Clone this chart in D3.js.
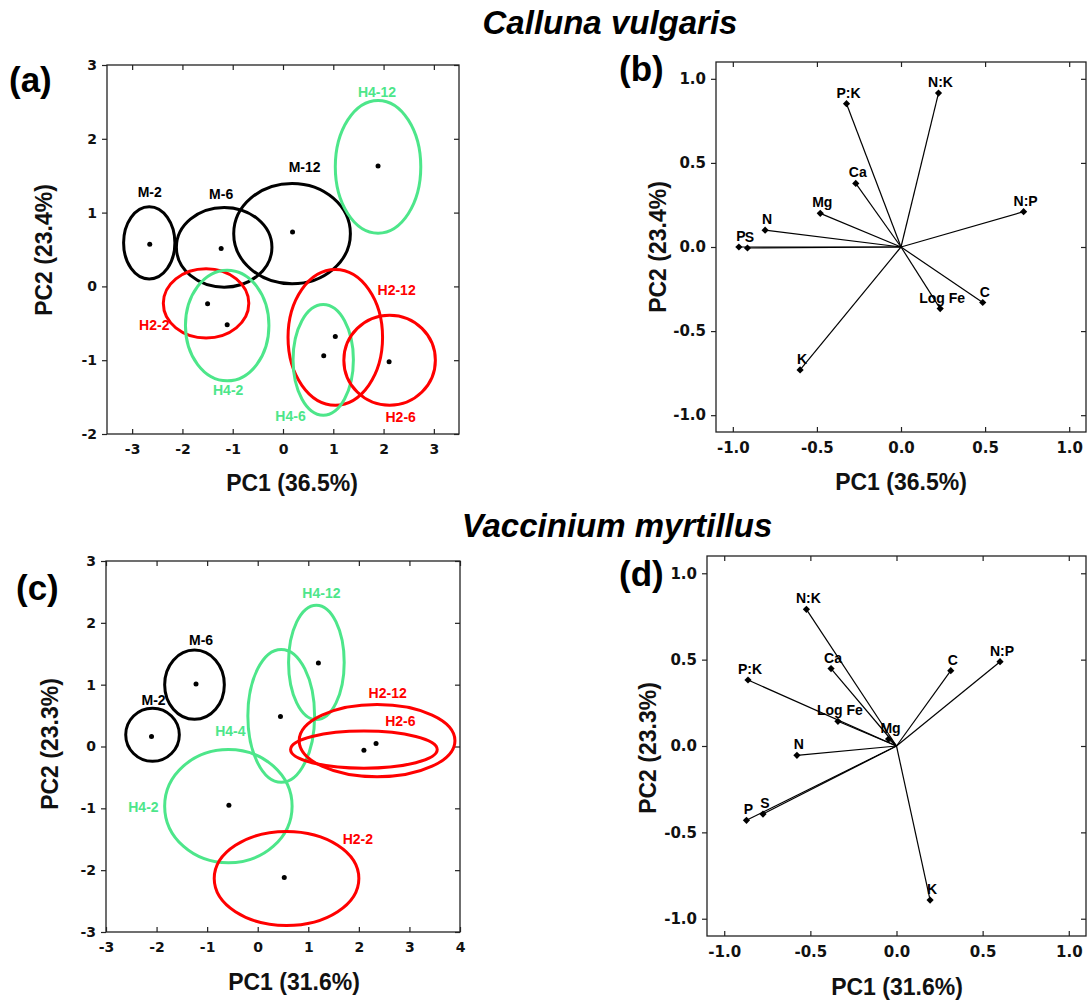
<!DOCTYPE html>
<html>
<head>
<meta charset="utf-8">
<script src="https://cdn.jsdelivr.net/npm/d3@7.9.0/dist/d3.min.js"></script>
<style>
  html, body { margin: 0; padding: 0; background: #fff; }
  svg { display: block; font-family: "Liberation Sans", Arial, sans-serif; font-weight: bold; }
  .tick text { font-family: "DejaVu Sans", Verdana, sans-serif; font-weight: bold; }
</style>
</head>
<body>
<svg id="chart" width="1089" height="1000"></svg>
<script>
/* ------------------------------- Data ------------------------------------ */
// (a) Calluna vulgaris – PCA scores, group means with confidence ellipses
const groupsA  = ["M-2", "M-6", "M-12", "H4-12", "H2-2", "H4-2", "H2-12", "H4-6", "H2-6"];
const meanXA   = [-2.65, -1.23, 0.19, 1.89, -1.50, -1.11, 1.04, 0.81, 2.11];
const meanYA   = [0.57, 0.515, 0.736, 1.63, -0.235, -0.52, -0.68, -0.94, -1.02];
const ellXA    = [-2.66, -1.17, 0.18, 1.89, -1.53, -1.11, 1.04, 0.80, 2.12];
const ellYA    = [0.59, 0.53, 0.715, 1.62, -0.23, -0.53, -0.69, -0.995, -1.0];
const ellRxA   = [0.51, 0.95, 1.16, 0.85, 0.85, 0.83, 0.94, 0.60, 0.91];
const ellRyA   = [0.49, 0.54, 0.68, 0.90, 0.47, 0.75, 0.92, 0.75, 0.61];
const labXA    = [-2.65, -1.23, 0.43, 1.87, -2.56, -1.09, 2.26, 0.15, 2.34];
const labYA    = [1.28, 1.25, 1.62, 2.64, -0.52, -1.41, -0.05, -1.76, -1.77];

// (b) Calluna vulgaris – variable loadings
const varsB = ["P:K", "N:K", "Ca", "Mg", "N", "P", "S", "N:P", "Log Fe", "C", "K"];
const pc1B  = [-0.324, 0.223, -0.269, -0.48, -0.808, -0.964, -0.913, 0.729, 0.233, 0.486, -0.60];
const pc2B  = [0.852, 0.915, 0.378, 0.20, 0.10, 0.0, -0.006, 0.21, -0.366, -0.33, -0.731];

// (c) Vaccinium myrtillus – PCA scores
const groupsC  = ["M-2", "M-6", "H4-12", "H4-4", "H2-12", "H2-6", "H4-2", "H2-2"];
const meanXC   = [-2.10, -1.22, 1.20, 0.45, 2.34, 2.10, -0.57, 0.525];
const meanYC   = [0.16, 1.01, 1.35, 0.485, 0.05, -0.06, -0.95, -2.12];
const ellXC    = [-2.08, -1.25, 1.16, 0.465, 2.36, 2.10, -0.58, 0.57];
const ellYC    = [0.19, 1.0, 1.36, 0.495, 0.095, -0.05, -0.965, -2.135];
const ellRxC   = [0.53, 0.59, 0.55, 0.66, 1.54, 1.45, 1.26, 1.43];
const ellRyC   = [0.43, 0.56, 0.925, 1.075, 0.585, 0.30, 0.915, 0.76];
const labXC    = [-2.06, -1.12, 1.26, -0.54, 2.57, 2.82, -2.26, 1.98];
const labYC    = [0.76, 1.72, 2.48, 0.25, 0.87, 0.41, -0.98, -1.50];

// (d) Vaccinium myrtillus – variable loadings
const varsD = ["N:K", "Ca", "P:K", "Log Fe", "Mg", "N", "P", "S", "C", "N:P", "K"];
const pc1D  = [-0.523, -0.38, -0.862, -0.34, -0.046, -0.578, -0.871, -0.775, 0.315, 0.601, 0.195];
const pc2D  = [0.791, 0.448, 0.382, 0.143, 0.04, -0.054, -0.43, -0.394, 0.436, 0.488, -0.892];

const ticksScoreA  = [-3, -2, -1, 0, 1, 2, 3];
const ticksScoreAY = [-2, -1, 0, 1, 2, 3];
const ticksScoreC  = [-3, -2, -1, 0, 1, 2, 3, 4];
const ticksScoreCY = [-3, -2, -1, 0, 1, 2, 3];
const ticksLoad    = [-1.0, -0.5, 0.0, 0.5, 1.0];

/* ------------------------------ Helpers ---------------------------------- */
const svg = d3.select("#chart");
const GREEN = "#4de68a", RED = "#ff0000", BLACK = "#000";
const groupColor = (g) => g.startsWith("H2") ? RED : g.startsWith("H4") ? GREEN : BLACK;

function frame(p) {
  const g = svg.append("g").attr("transform", `translate(${p.x},${p.y})`);
  const x = d3.scaleLinear().domain(p.xDomain).range([0, p.w]);
  const y = d3.scaleLinear().domain(p.yDomain).range([p.h, 0]);
  const fmt = p.fmt;

  const styleAxis = (sel) => {
    sel.attr("font-size", p.tickSize).attr("font-family", null);
    sel.select(".domain").remove();
    sel.selectAll("line").attr("stroke", "#222").attr("stroke-width", 1.2);
    sel.selectAll("text").style("font-size", p.tickSize + "px").attr("fill", "#111");
  };

  g.append("g").attr("transform", `translate(0,${p.h})`)
    .call(d3.axisBottom(x).tickValues(p.xTicks).tickFormat(fmt).tickSizeInner(-5).tickSizeOuter(0).tickPadding(10))
    .call(styleAxis);
  g.append("g")
    .call(d3.axisTop(x).tickValues(p.xTicks).tickFormat("").tickSizeInner(-5).tickSizeOuter(0))
    .call(styleAxis);
  g.append("g")
    .call(d3.axisLeft(y).tickValues(p.yTicks).tickFormat(fmt).tickSizeInner(5).tickSizeOuter(0).tickPadding(5))
    .call(styleAxis);
  g.append("g").attr("transform", `translate(${p.w},0)`)
    .call(d3.axisRight(y).tickValues(p.yTicks).tickFormat("").tickSizeInner(-5).tickSizeOuter(0))
    .call(styleAxis);

  g.append("rect").attr("width", p.w).attr("height", p.h)
    .attr("fill", "none").attr("stroke", "#222").attr("stroke-width", 1.3);

  // axis titles
  svg.append("text").attr("x", p.xt[0]).attr("y", p.xt[1]).attr("text-anchor", "middle")
    .attr("font-size", 23).attr("fill", "#111").text(p.xTitle);
  svg.append("text").attr("transform", `translate(${p.yt[0]},${p.yt[1]}) rotate(-90)`)
    .attr("text-anchor", "middle").attr("font-size", 23).attr("fill", "#111").text(p.yTitle);
  // panel tag
  svg.append("text").attr("x", p.tag[0]).attr("y", p.tag[1])
    .attr("font-size", 35).attr("fill", "#000").text(p.tagText);

  return { g, x, y };
}

function scorePanel(p, d) {
  const { g, x, y } = frame(p);
  const rows = d.groups.map((name, i) => ({
    name, mx: d.mx[i], my: d.my[i], ex: d.ex[i], ey: d.ey[i],
    rx: d.rx[i], ry: d.ry[i], lx: d.lx[i], ly: d.ly[i]
  }));
  const kx = x(1) - x(0), ky = y(0) - y(1);

  g.selectAll("ellipse").data(rows).enter().append("ellipse")
    .attr("cx", (r) => x(r.ex)).attr("cy", (r) => y(r.ey))
    .attr("rx", (r) => r.rx * kx).attr("ry", (r) => r.ry * ky)
    .attr("fill", "none").attr("stroke", (r) => groupColor(r.name)).attr("stroke-width", 3);

  g.selectAll("circle").data(rows).enter().append("circle")
    .attr("cx", (r) => x(r.mx)).attr("cy", (r) => y(r.my)).attr("r", 2.5).attr("fill", "#000");

  g.selectAll("text.lab").data(rows).enter().append("text").attr("class", "lab")
    .attr("x", (r) => x(r.lx)).attr("y", (r) => y(r.ly)).attr("dy", "0.36em")
    .attr("text-anchor", "middle").attr("font-size", 14)
    .attr("fill", (r) => groupColor(r.name)).text((r) => r.name);
}

function loadingPanel(p, d) {
  const { g, x, y } = frame(p);
  const rows = d.vars.map((name, i) => ({ name, a: d.pc1[i], b: d.pc2[i] }));

  g.selectAll("line.vec").data(rows).enter().append("line").attr("class", "vec")
    .attr("x1", x(0)).attr("y1", y(0))
    .attr("x2", (r) => x(r.a)).attr("y2", (r) => y(r.b))
    .attr("stroke", "#000").attr("stroke-width", 1.2);

  // square rotated 45° – an even diamond like the original marker
  const diamond = d3.symbol().type(d3.symbolSquare).size(26);
  g.selectAll("path.pt").data(rows).enter().append("path").attr("class", "pt")
    .attr("transform", (r) => `translate(${x(r.a)},${y(r.b)}) rotate(45)`)
    .attr("d", diamond).attr("fill", "#000");

  g.selectAll("text.lab").data(rows).enter().append("text").attr("class", "lab")
    .attr("x", (r) => x(r.a) + 2).attr("y", (r) => y(r.b) - 6)
    .attr("text-anchor", "middle").attr("font-size", 14).attr("fill", "#000")
    .text((r) => r.name);
}

/* ------------------------------ Titles ----------------------------------- */
svg.append("text").attr("x", 610).attr("y", 34).attr("text-anchor", "middle")
  .attr("font-size", 33).attr("font-style", "italic").attr("fill", "#000").text("Calluna vulgaris");
svg.append("text").attr("x", 617).attr("y", 537).attr("text-anchor", "middle")
  .attr("font-size", 33).attr("font-style", "italic").attr("fill", "#000").text("Vaccinium myrtillus");

const intFmt = (v) => String(v);
const decFmt = (v) => v.toFixed(1);

/* ------------------------------ Panels ----------------------------------- */
scorePanel({
  x: 107, y: 65, w: 352, h: 369, xDomain: [-3.5, 3.5], yDomain: [-2, 3],
  xTicks: ticksScoreA, yTicks: ticksScoreAY, fmt: intFmt, tickSize: 14,
  xTitle: "PC1 (36.5%)", yTitle: "PC2 (23.4%)", xt: [292, 491], yt: [52, 250],
  tag: [9, 92], tagText: "(a)"
}, { groups: groupsA, mx: meanXA, my: meanYA, ex: ellXA, ey: ellYA, rx: ellRxA, ry: ellRyA, lx: labXA, ly: labYA });

loadingPanel({
  x: 716, y: 62, w: 370, h: 370, xDomain: [-1.1, 1.1], yDomain: [-1.1, 1.1],
  xTicks: ticksLoad, yTicks: ticksLoad, fmt: decFmt, tickSize: 15,
  xTitle: "PC1 (36.5%)", yTitle: "PC2 (23.4%)", xt: [901, 490], yt: [666, 247],
  tag: [619, 81], tagText: "(b)"
}, { vars: varsB, pc1: pc1B, pc2: pc2B });

scorePanel({
  x: 106, y: 561, w: 354, h: 371, xDomain: [-3, 4], yDomain: [-3, 3],
  xTicks: ticksScoreC, yTicks: ticksScoreCY, fmt: intFmt, tickSize: 14,
  xTitle: "PC1 (31.6%)", yTitle: "PC2 (23.3%)", xt: [294, 990], yt: [58, 744],
  tag: [16, 600], tagText: "(c)"
}, { groups: groupsC, mx: meanXC, my: meanYC, ex: ellXC, ey: ellYC, rx: ellRxC, ry: ellRyC, lx: labXC, ly: labYC });

loadingPanel({
  x: 707, y: 556, w: 379, h: 380, xDomain: [-1.1, 1.1], yDomain: [-1.1, 1.1],
  xTicks: ticksLoad, yTicks: ticksLoad, fmt: decFmt, tickSize: 15,
  xTitle: "PC1 (31.6%)", yTitle: "PC2 (23.3%)", xt: [897, 995], yt: [656, 748],
  tag: [619, 586], tagText: "(d)"
}, { vars: varsD, pc1: pc1D, pc2: pc2D });
</script>
</body>
</html>
